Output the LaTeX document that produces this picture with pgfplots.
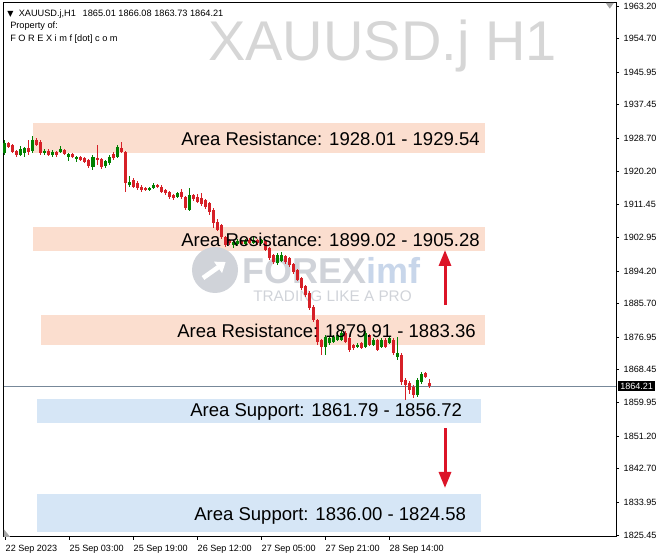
\documentclass[border=0pt]{standalone}
\usepackage{fontspec}
\setmainfont{Liberation Sans}
\newfontfamily\dejavu{DejaVu Sans}
\usepackage{pgfplots}
\pgfplotsset{compat=1.18}
\usepackage{pgfplotstable}
\usetikzlibrary{arrows.meta}

\definecolor{candleup}{RGB}{0,128,0}
\definecolor{candledn}{RGB}{214,32,39}
\definecolor{resist}{RGB}{251,222,207}
\definecolor{support}{RGB}{214,230,246}
\definecolor{wm}{RGB}{214,214,214}
\definecolor{logo}{RGB}{208,211,217}
\definecolor{logob}{RGB}{200,214,234}
\definecolor{priceline}{RGB}{119,136,153}
\definecolor{arrowred}{RGB}{220,20,40}

% H1 bars, x = bar index
\pgfplotstableread{
i O H L C
0 1924.9 1928.3 1924.4 1927.5
4 1924.4 1926.7 1924.1 1926.0
5 1924.9 1926.6 1923.9 1926.2
7 1925.4 1929.3 1925.0 1928.3
10 1924.9 1926.0 1924.4 1925.4
12 1924.4 1925.7 1923.9 1925.2
14 1925.2 1926.8 1924.9 1926.0
16 1923.9 1925.0 1922.8 1924.7
18 1923.4 1924.2 1922.5 1923.9
22 1921.3 1924.4 1920.5 1923.9
25 1921.5 1923.1 1921.0 1922.8
26 1922.3 1924.4 1921.8 1923.9
28 1923.9 1927.0 1923.6 1926.5
31 1916.6 1918.9 1916.0 1917.4
36 1915.3 1916.1 1915.0 1915.8
37 1915.8 1917.0 1915.5 1916.6
43 1913.5 1914.8 1913.2 1914.5
46 1910.1 1915.8 1909.8 1914.0
57 1900.9 1902.0 1900.2 1901.7
58 1901.2 1902.5 1900.9 1902.0
60 1901.2 1902.6 1901.0 1902.0
62 1901.5 1903.3 1901.2 1902.3
64 1901.5 1902.6 1901.2 1902.3
68 1896.3 1898.9 1895.8 1898.4
69 1896.8 1899.2 1896.5 1898.4
80 1874.4 1877.6 1872.3 1877.0
81 1875.4 1877.3 1874.9 1876.7
82 1875.7 1877.6 1875.4 1877.0
83 1876.2 1878.0 1875.9 1877.5
84 1876.2 1878.6 1875.9 1878.1
88 1874.4 1875.4 1874.1 1874.9
90 1874.4 1878.6 1874.1 1878.1
92 1874.9 1876.7 1874.6 1876.2
94 1874.4 1876.7 1874.1 1876.2
96 1875.4 1877.3 1875.2 1876.7
98 1871.8 1877.0 1871.0 1872.8
103 1861.9 1866.3 1861.4 1865.8
104 1865.3 1867.9 1864.8 1867.4
}\upbars

\pgfplotstableread{
i O H L C
1 1927.5 1927.8 1926.2 1926.5
2 1927.0 1927.3 1924.9 1925.2
3 1925.4 1925.7 1924.0 1924.4
6 1926.2 1928.3 1924.4 1925.2
8 1928.3 1928.8 1926.7 1927.0
9 1927.8 1928.3 1924.4 1924.9
11 1925.4 1925.9 1924.1 1924.4
13 1925.2 1925.5 1924.0 1924.4
15 1925.7 1926.0 1924.4 1924.7
17 1924.7 1925.0 1923.5 1923.9
19 1923.9 1924.2 1922.8 1923.1
20 1923.6 1924.0 1922.3 1922.6
21 1923.1 1923.4 1921.0 1921.5
23 1923.6 1927.0 1921.8 1923.1
24 1923.4 1923.6 1920.8 1921.3
27 1924.7 1925.2 1923.1 1923.6
29 1926.2 1927.8 1924.9 1925.2
30 1925.2 1925.4 1914.8 1917.1
32 1917.9 1918.5 1915.8 1916.1
33 1917.1 1917.6 1915.3 1915.8
34 1916.1 1916.6 1914.8 1915.3
35 1915.8 1916.1 1915.0 1915.3
38 1916.6 1916.9 1915.8 1916.1
39 1916.1 1916.6 1914.5 1914.8
40 1915.3 1915.5 1914.0 1914.5
41 1914.8 1915.0 1913.0 1913.5
42 1914.0 1914.3 1912.7 1913.2
44 1914.8 1915.5 1913.0 1913.5
45 1913.5 1913.8 1910.1 1910.6
47 1914.0 1914.3 1912.5 1912.9
48 1913.5 1914.2 1911.9 1912.2
49 1913.2 1914.5 1911.1 1911.6
50 1912.7 1913.0 1910.4 1910.9
51 1911.9 1912.2 1908.8 1909.6
52 1910.1 1910.6 1905.4 1906.7
53 1907.0 1907.8 1904.6 1904.9
54 1906.2 1906.5 1902.5 1903.0
55 1903.0 1903.3 1900.4 1901.0
56 1902.3 1902.6 1901.0 1901.5
59 1902.0 1902.3 1900.9 1901.2
61 1902.2 1902.8 1901.2 1901.5
63 1902.3 1902.6 1901.0 1901.5
65 1902.0 1902.3 1899.4 1899.7
66 1900.2 1900.4 1897.1 1897.6
67 1898.4 1898.6 1896.0 1896.5
70 1898.0 1898.4 1896.0 1896.5
71 1897.6 1897.9 1895.3 1895.8
72 1896.0 1896.3 1893.5 1893.9
73 1894.5 1894.8 1891.5 1891.9
74 1892.4 1892.7 1889.3 1889.8
75 1890.3 1890.6 1887.5 1888.0
76 1888.5 1889.0 1884.0 1884.6
77 1884.8 1885.3 1880.8 1881.4
78 1881.4 1881.8 1874.9 1875.7
79 1876.2 1876.6 1872.3 1874.4
85 1878.1 1878.6 1875.4 1875.7
86 1876.7 1877.0 1873.1 1873.6
87 1874.9 1875.2 1873.6 1874.1
89 1875.4 1875.7 1873.8 1874.1
91 1877.5 1877.8 1874.6 1874.9
93 1876.2 1876.5 1873.3 1873.6
95 1876.2 1876.7 1874.1 1874.4
97 1876.2 1876.7 1872.3 1872.8
99 1872.3 1872.8 1864.5 1865.3
100 1865.8 1866.3 1860.6 1864.5
101 1865.0 1865.5 1862.2 1863.2
102 1864.0 1864.5 1861.1 1861.9
105 1867.6 1867.9 1866.3 1866.6
106 1865.01 1866.08 1863.73 1864.21
}\downbars

\begin{document}
\begin{tikzpicture}
\path[use as bounding box] (0,0) rectangle (498pt,420pt);
\begin{axis}[
    at={(3pt,17.25pt)}, anchor=south west,
    scale only axis, width=459pt, height=400.5pt,
    xmin=-0.25, xmax=152.75, ymin=1824.92, ymax=1963.98,
    clip=false,
    axis line style={black, line width=0.75pt},
    tick align=outside, major tick length=2.25pt,
    tick style={black, line width=0.6pt},
    xtick pos=bottom, ytick pos=right, yticklabel pos=right,
    xtick={0,16,32,48,64,80,96},
    xticklabels={22 Sep 2023,25 Sep 03:00,25 Sep 19:00,26 Sep 12:00,27 Sep 05:00,27 Sep 21:00,28 Sep 14:00},
    ytick={1825.45,1833.95,1842.70,1851.20,1859.95,1868.45,1876.95,1885.70,1894.20,1902.95,1911.45,1920.20,1928.70,1937.45,1945.95,1954.70,1963.20},
    /pgf/number format/assume math mode=true,
    y tick label style={/pgf/number format/fixed, /pgf/number format/fixed zerofill,
        /pgf/number format/precision=2, /pgf/number format/1000 sep={}, anchor=west},
    tick label style={font=\fontsize{6.8}{8}\selectfont},
    xticklabel style={anchor=north west, xshift=-3pt},
]
% zones
\addplot[fill=resist, draw=none] coordinates {(7,1932.73) (120,1932.73) (120,1924.92) (7,1924.92)};
\addplot[fill=resist, draw=none] coordinates {(7,1905.65) (120,1905.65) (120,1899.40) (7,1899.40)};
\addplot[fill=resist, draw=none] coordinates {(9,1882.73) (120,1882.73) (120,1874.92) (9,1874.92)};
\addplot[fill=support, draw=none] coordinates {(8,1860.85) (119,1860.85) (119,1854.60) (8,1854.60)};
\addplot[fill=support, draw=none] coordinates {(8,1836.11) (119,1836.11) (119,1826.22) (8,1826.22)};

% watermarks
\node[anchor=base west, text=wm, inner sep=0pt, font=\fontsize{42}{48}\selectfont] at (axis cs:50.75,1949.13) {XAUUSD.j H1};
\fill[logo] (axis cs:52.5,1894.45) circle (17.25pt);
\draw[white, line width=3.5pt, -{Triangle[width=10pt,length=7pt]}] ([shift={(-9pt,-6pt)}]axis cs:52.5,1894.45) -- ([shift={(8pt,6pt)}]axis cs:52.5,1894.45);
\node[anchor=base west, inner sep=0pt, text depth=0pt, font=\bfseries\fontsize{27}{30}\selectfont] at (axis cs:59.25,1891.06) {\textcolor{logo}{FOREX}\textcolor{logob}{imf}};
\node[anchor=base west, inner sep=0pt, text height=8pt, font=\fontsize{11.5}{13}\selectfont, text=logo] at (axis cs:62,1886.3) {TRADING LIKE A PRO};

% chart-shift markers
\fill[gray!70] (axis cs:150.2,1963.98) -- (axis cs:152.2,1963.98) -- (axis cs:151.2,1962.5) -- cycle;
\fill[gray!70] (axis cs:-0.25,1824.92) -- (axis cs:1.3,1824.92) -- (axis cs:-0.25,1826.9) -- cycle;

% last price line
\addplot[priceline, line width=0.75pt] coordinates {(-0.25,1864.21) (152.75,1864.21)};

% candles: wicks, then bodies
\addplot[draw=none, mark=none, error bars/.cd, y dir=both, y explicit, error mark=none,
    error bar style={draw=candleup, line width=0.75pt}]
    table[x=i, y expr={(\thisrow{H}+\thisrow{L})/2}, y error expr={(\thisrow{H}-\thisrow{L})/2}] {\upbars};
\addplot[draw=none, mark=none, error bars/.cd, y dir=both, y explicit, error mark=none,
    error bar style={draw=candleup, line width=2.25pt}]
    table[x=i, y expr={(\thisrow{O}+\thisrow{C})/2}, y error expr={max(abs(\thisrow{C}-\thisrow{O})/2,0.14)}] {\upbars};
\addplot[draw=none, mark=none, error bars/.cd, y dir=both, y explicit, error mark=none,
    error bar style={draw=candledn, line width=0.75pt}]
    table[x=i, y expr={(\thisrow{H}+\thisrow{L})/2}, y error expr={(\thisrow{H}-\thisrow{L})/2}] {\downbars};
\addplot[draw=none, mark=none, error bars/.cd, y dir=both, y explicit, error mark=none,
    error bar style={draw=candledn, line width=2.25pt}]
    table[x=i, y expr={(\thisrow{O}+\thisrow{C})/2}, y error expr={max(abs(\thisrow{O}-\thisrow{C})/2,0.14)}] {\downbars};

% zone labels
\node[anchor=base west, inner sep=0pt, font=\fontsize{13.9}{16}\selectfont] at (axis cs:44,1926.74) {Area Resistance: 1928.01 - 1929.54};
\node[anchor=base west, inner sep=0pt, font=\fontsize{13.9}{16}\selectfont] at (axis cs:44,1900.44) {Area Resistance: 1899.02 - 1905.28};
\node[anchor=base west, inner sep=0pt, font=\fontsize{13.9}{16}\selectfont] at (axis cs:43,1877.00) {Area Resistance: 1879.91 - 1883.36};
\node[anchor=base west, inner sep=0pt, font=\fontsize{13.9}{16}\selectfont] at (axis cs:46.25,1856.17) {Area Support: 1861.79 - 1856.72};
\node[anchor=base west, inner sep=0pt, font=\fontsize{13.9}{16}\selectfont] at (axis cs:47.25,1829.34) {Area Support: 1836.00 - 1824.58};

% arrows
\addplot[arrowred, line width=2.25pt, -{Triangle[width=9pt,length=12pt]}] coordinates {(110,1885.33) (110,1899.66)};
\addplot[arrowred, line width=2.25pt, -{Triangle[width=9pt,length=12pt]}] coordinates {(110,1853.30) (110,1837.68)};

% last price tag
\node[anchor=west, fill=black, text=white, inner xsep=1.5pt, inner ysep=1.5pt, xshift=1.5pt, font=\fontsize{6.8}{8}\selectfont] at (axis cs:152.75,1864.21) {1864.21};

% header
\node[anchor=base west, inner sep=0pt, font=\fontsize{6.9}{8}\selectfont] at (axis cs:0.5,1960.59) {{\dejavu\fontsize{6}{7}\selectfont ▼}\hspace{4pt}XAUUSD.j,H1\hspace{5pt}1865.01 1866.08 1863.73 1864.21};
\node[anchor=base west, inner sep=0pt, font=\fontsize{6.9}{8}\selectfont] at (axis cs:1.25,1957.21) {Property of:};
\node[anchor=base west, inner sep=0pt, font=\fontsize{6.9}{8}\selectfont] at (axis cs:1.25,1954.08) {F O R E X i m f [dot] c o m};
\end{axis}
\end{tikzpicture}
\end{document}
